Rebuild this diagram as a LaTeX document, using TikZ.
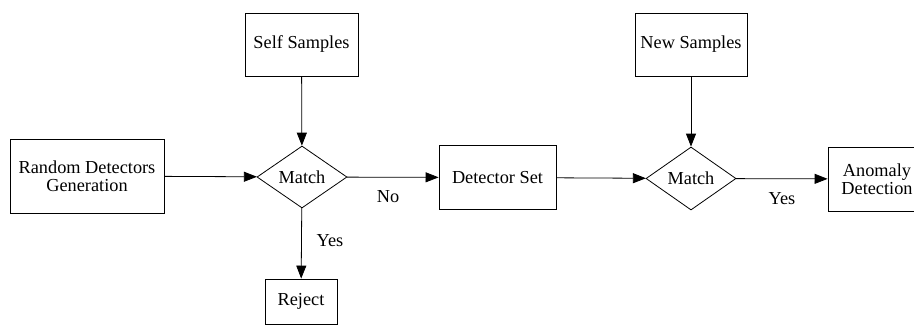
\documentclass[tikz,border=0pt]{standalone}
\usepackage{fontspec}
\setmainfont{Liberation Serif}
\usetikzlibrary{arrows.meta, shapes.geometric}

\begin{document}
\begin{tikzpicture}[x=1pt, y=-1pt,
        every node/.style={font=\fontsize{18.3}{18}\selectfont},
        box/.style={draw, line width=0.8pt, inner sep=2pt, align=center},
        test/.style={draw, diamond, line width=0.8pt, inner sep=0pt,
            minimum width=90, minimum height=62},
        flow/.style={-{Triangle[length=13pt, width=10pt]}, line width=0.8pt}]

        % Page
        \useasboundingbox (0,0) rectangle (914,325);

        % Boxes
        \node[box, minimum width=154, minimum height=74] (gen) at (87,176)
            {Random Detectors\\Generation};
        \node[box, minimum width=113, minimum height=63] (self) at (301.5,44.5)
            {Self Samples};
        \node[box, minimum width=72, minimum height=45] (reject) at (301,301.5)
            {Reject};
        \node[box, minimum width=117, minimum height=64] (detset) at (497.5,177.5)
            {Detector Set};
        \node[box, minimum width=112, minimum height=63] (newsamp) at (691,44.5)
            {New Samples};
        \node[box, minimum width=98, minimum height=64] (anomaly) at (877,179)
            {Anomaly\\Detection};

        % Decisions
        \node[test] (match1) at (302,177) {Match};
        \node[test, minimum height=63] (match2) at (691,178.5) {Match};

        % Flow
        \draw[flow] (gen) -- (match1);
        \draw[flow] (self) -- (match1);
        \draw[flow] (match1) -- (detset);
        \draw[flow] (match1) -- (reject);
        \draw[flow] (detset) -- (match2);
        \draw[flow] (newsamp) -- (match2);
        \draw[flow] (match2) -- (anomaly);

        % Labels
        \node (no) at (388,197) {No};
        \node (yes1) at (330,241) {Yes};
        \node (yes2) at (782,199) {Yes};

    \end{tikzpicture}
\end{document}
